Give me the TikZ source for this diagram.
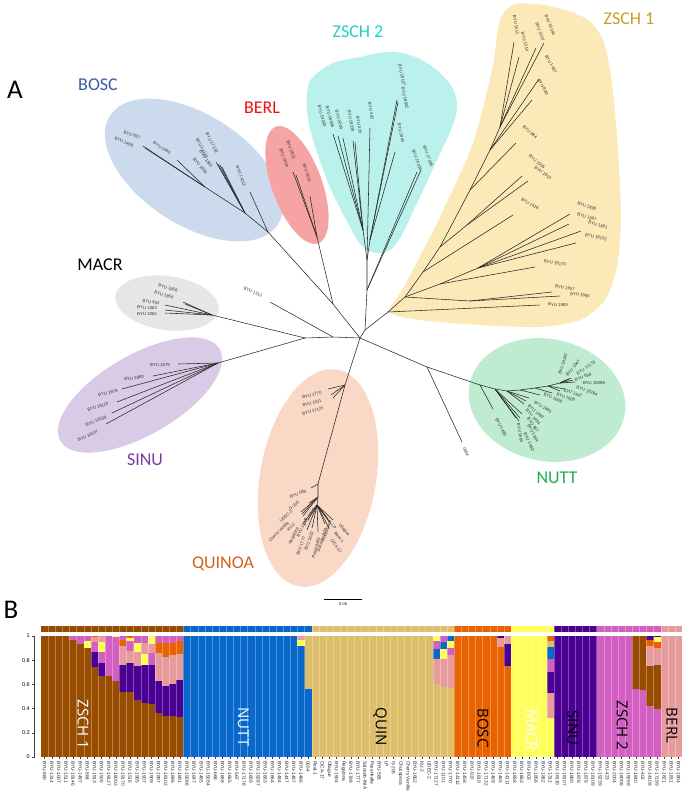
\documentclass[tikz,border=0pt]{standalone}
\usepackage{fontspec}
\setmainfont{Liberation Sans}
\newfontfamily\cali{Carlito}
\newfontfamily\opens{Open Sans}

% clade fills
\definecolor{fBosc}{HTML}{CCDAEE}
\definecolor{fBerl}{HTML}{F5A3A3}
\definecolor{fZtwo}{HTML}{BBF1EC}
\definecolor{fZone}{HTML}{FCE9B8}
\definecolor{fMacr}{HTML}{E6E6E6}
\definecolor{fSinu}{HTML}{D9CAE6}
\definecolor{fQuin}{HTML}{F9D9C6}
\definecolor{fNutt}{HTML}{BFEBD0}
% clade label colours
\definecolor{tBosc}{HTML}{3A5BA0}
\definecolor{tBerl}{HTML}{F01010}
\definecolor{tZtwo}{HTML}{22CFC6}
\definecolor{tZone}{HTML}{C8A024}
\definecolor{tSinu}{HTML}{7A3BA8}
\definecolor{tQuin}{HTML}{D0621E}
\definecolor{tNutt}{HTML}{1FAF55}
% structure colours
\definecolor{cBr}{HTML}{974C00}
\definecolor{cBl}{HTML}{0868CC}
\definecolor{cQu}{HTML}{DFBE6B}
\definecolor{cOr}{HTML}{E86200}
\definecolor{cYe}{HTML}{FFFF5C}
\definecolor{cPu}{HTML}{4A0092}
\definecolor{cPk}{HTML}{D45FC3}
\definecolor{cLp}{HTML}{E89B9C}

\tikzset{
  branch/.style={draw=black!85, line width=0.55pt},
  tiplab/.style={font=\fontsize{4.3}{5}\selectfont, text=black!80, inner sep=0pt},
  cladelab/.style={font=\cali\fontsize{18}{20}\selectfont, inner sep=0pt},
  barlab/.style={font=\fontsize{4.8}{5}\selectfont, text=black!85, rotate=-90, anchor=west, inner sep=0pt},
  grplab/.style={font=\opens\fontsize{15}{16}\selectfont, rotate=-90, inner sep=0pt},
}

% parent, name, tip, label position, angle, text
\newcommand{\leaf}[6]{%
  \coordinate (#2) at (#3);
  \draw[branch] (#1) -- (#2);
  \node[tiplab, rotate=#5] (l#2) at (#4) {#6};}

\begin{document}
\begin{tikzpicture}[x=1pt, y=-1pt]
\useasboundingbox (0,0) rectangle (685,807);

% clade areas
\fill[fBosc, rotate around={-33:(194,170)}] (194,170) ellipse [x radius=100pt, y radius=55pt];
\fill[fBerl, rotate around={-70:(297,185)}] (297,185) ellipse [x radius=62pt, y radius=25pt];
\fill[fMacr, rotate around={-8:(167,303)}] (167,303) ellipse [x radius=52pt, y radius=27pt];
\fill[fSinu, rotate around={30:(140,395)}] (140,395) ellipse [x radius=92pt, y radius=40pt];
\fill[fQuin, rotate around={80:(318,478)}] (318,478) ellipse [x radius=110pt, y radius=58pt];
\fill[fNutt, rotate around={-12:(547,400)}] (547,400) ellipse [x radius=79pt, y radius=61pt];
\fill[fZtwo] plot[smooth cycle, tension=0.6] coordinates {(308,87) (314,76) (333,63) (360,57) (387,52) (410,55) (433,67) (452,87) (457,107) (452,127) (437,160) (417,203) (397,243) (380,253) (363,247) (350,227) (330,187) (313,140) (307,110)};
\fill[fZone] plot[smooth cycle, tension=0.45] coordinates {(390,312) (405,285) (440,217) (473,143) (492,70) (500,20) (515,4) (550,6) (585,18) (603,40) (612,83) (618,150) (621,217) (617,267) (605,300) (580,320) (540,327) (480,325) (420,320)};

% backbone
\coordinate (hub) at (360,338);
\coordinate (bb) at (333,304);
\coordinate (zz) at (365,330);
\coordinate (x1312) at (333,337);
\coordinate (ms) at (305,338);
\coordinate (nu0) at (427,367);
\coordinate (qu1) at (345,385);
\draw[branch] (hub) -- (bb);
\draw[branch] (hub) -- (zz);
\draw[branch] (hub) -- (x1312) -- (ms);
\draw[branch] (hub) -- (nu0);
\draw[branch] (hub) -- (qu1);

% BOSC
\coordinate (bo1) at (268,232);
\coordinate (bo2) at (245,213);
\coordinate (bo3) at (205,187);
\draw[branch] (bb) -- (bo1) -- (bo2) -- (bo3);
\leaf{bo1}{t14111}{250,192}{241,176}{-70}{BYU 14111}
\leaf{bo2}{t17132}{216,162}{212,143}{-62}{BYU 17132}
\leaf{bo2}{t14110}{218,164}{202,148}{-62}{BYU 14110}
\leaf{bo2}{t1819}{220,165}{206,159}{-55}{BYU 1819}
\leaf{bo2}{t1458}{222,167}{200,166}{-50}{BYU 1458}
\leaf{bo3}{t1465}{177,160}{162,148}{-33}{BYU 1465}
\leaf{bo3}{t937}{143,146}{132,135}{-22}{BYU 937}
\leaf{bo3}{t1469}{145,148}{124,142}{-22}{BYU 1469}

% BERL
\coordinate (be1) at (317,237);
\draw[branch] (bb) -- (be1);
\leaf{be1}{t1821}{293,172}{291,150}{-70}{BYU 1821}
\leaf{be1}{t1804}{296,175}{284,158}{-70}{BYU 1804}
\leaf{be1}{t1831}{310,196}{307,173}{-72}{BYU 1831}

% ZSCH 2
\coordinate (z1) at (367,290);
\coordinate (z2) at (367,260);
\coordinate (z3) at (363,230);
\coordinate (z4) at (370,240);
\draw[branch] (zz) -- (z1) -- (z2) -- (z3);
\draw[branch] (z2) -- (z4);
\leaf{z1}{t14108}{417,172}{417,160}{-70}{BYU 14108}
\leaf{z1}{t17199}{421,170}{428,156}{-70}{BYU 17199}
\leaf{z2}{t402}{370,128}{371,111}{-80}{BYU 402}
\leaf{z3}{t19259}{333,134}{322,116}{-75}{BYU 19259}
\leaf{z3}{t18006}{338,136}{330,117}{-75}{BYU 18006}
\leaf{z3}{t2004}{343,138}{339,120}{-75}{BYU 2004}
\leaf{z3}{t19239}{353,141}{351,121}{-80}{BYU 19239}
\leaf{z3}{t423}{355,142}{359,125}{-80}{BYU 423}
\leaf{z4}{t1840}{395,152}{401,133}{-78}{BYU 1840}
\leaf{z4}{t19127}{397,100}{402,75}{-78}{BYU 19127}
\leaf{z4}{t18002}{398,102}{405,98}{-78}{BYU 18002}

% ZSCH 1
\coordinate (zr) at (388,312);
\coordinate (za) at (405,297);
\coordinate (zb) at (423,272);
\coordinate (zc) at (440,247);
\coordinate (zd) at (458,213);
\coordinate (ze) at (470,190);
\coordinate (zf) at (490,150);
\coordinate (zg) at (500,127);
\draw[branch] (zz) -- (zr) -- (za) -- (zb) -- (zc) -- (zd) -- (ze) -- (zf) -- (zg);
\leaf{zr}{t1909}{540,305}{558,305}{-3}{BYU 1909}
\coordinate (zh) at (470,301);
\draw[branch] (za) -- (zh);
\leaf{zh}{t1907}{552,292}{565,288}{-10}{BYU 1907}
\leaf{zh}{t1965}{560,296}{580,295}{-8}{BYU 1965}
\coordinate (zi) at (440,284);
\coordinate (zj) at (478,268);
\draw[branch] (za) -- (zi) -- (zj);
\leaf{zi}{t19170}{535,267}{555,263}{-10}{BYU 19170}
\leaf{zj}{t1896}{570,214}{587,206}{-20}{BYU 1896}
\leaf{zj}{t1897}{569,224}{587,217}{-18}{BYU 1897}
\leaf{zj}{t1891}{581,231}{598,225}{-15}{BYU 1891}
\leaf{zj}{t18102}{576,243}{596,237}{-12}{BYU 18102}
\leaf{zb}{t1516}{513,215}{530,204}{-30}{BYU 1516}
\coordinate (zk) at (467,225);
\draw[branch] (zc) -- (zk);
\leaf{zk}{t1505}{522,176}{537,162}{-40}{BYU 1505}
\leaf{zk}{t1913}{528,181}{543,173}{-35}{BYU 1913}
\leaf{ze}{t884}{516,143}{530,132}{-40}{BYU 884}
\leaf{zf}{t1497}{539,79}{551,64}{-60}{BYU 1497}
\leaf{zf}{t880}{532,100}{543,87}{-60}{BYU 880}
\leaf{zg}{t1511}{514,42}{516,25}{-80}{BYU 1511}
\leaf{zg}{t1314}{519,57}{525,42}{-75}{BYU 1314}
\leaf{zg}{t1007}{536,48}{540,32}{-70}{BYU 1007}
\leaf{zg}{t19146}{544,43}{550,25}{-68}{BYU 19146}

% MACR
\coordinate (ma) at (212,315);
\draw[branch] (ms) -- (ma);
\leaf{ma}{t1858}{183,302}{168,288}{-15}{BYU 1858}
\leaf{ma}{t1856}{185,304}{164,295}{-15}{BYU 1856}
\leaf{ma}{t803}{165,305}{151,302}{-8}{BYU 803}
\leaf{ma}{t1863}{165,310}{147,308}{-4}{BYU 1863}
\leaf{ma}{t1862}{165,313}{147,314}{0}{BYU 1862}
\leaf{x1312}{t1312}{270,302}{253,292}{-22}{BYU 1312}

% SINU
\coordinate (si) at (218,363);
\draw[branch] (ms) -- (si);
\leaf{si}{t1679}{178,364}{160,365}{0}{BYU 1679}
\leaf{si}{t1880}{153,376}{134,378}{8}{BYU 1880}
\leaf{si}{t1878}{122,389}{108,393}{12}{BYU 1878}
\leaf{si}{t18110}{117,402}{98,407}{18}{BYU 18110}
\leaf{si}{t18109}{112,413}{96,421}{22}{BYU 18109}
\leaf{si}{t18107}{106,424}{88,436}{25}{BYU 18107}

% QUINOA
\coordinate (qu2) at (318,484);
\coordinate (qu3) at (318,497);
\coordinate (qu4) at (317,505);
\draw[branch] (qu1) -- (qu2) -- (qu3) -- (qu4);
\leaf{qu1}{t1770}{328,389}{312,395}{15}{BYU 1770}
\leaf{qu1}{t1101}{331,395}{312,403}{15}{BYU 1101}
\leaf{qu1}{t17127}{333,398}{313,411}{15}{BYU 17127}
\leaf{qu2}{t566}{311,488}{298,494}{22}{BYU 566}
\leaf{qu3}{tGtwo}{309,503}{294,506}{40}{G-205}
\leaf{qu3}{tUdec}{301,512}{286,516}{45}{UDEC-2}
\leaf{qu3}{tCherry}{302,514}{279,532}{45}{Cherry Vanilla}
\leaf{qu3}{tKu}{303,516}{291,527}{50}{KU-2}
\leaf{qu4}{tRegal}{304,522}{294,536}{65}{Regalona}
\leaf{qu4}{t1904}{314,509}{309,517}{60}{BYU 1904}
\leaf{qu4}{t1789}{308,520}{302,528}{65}{BYU 1789}
\leaf{qu4}{t1777}{307,530}{301,546}{70}{BYU 1777}
\leaf{qu4}{t1662}{312,528}{309,541}{70}{BYU 1662}
\leaf{qu4}{tPasan}{318,532}{316,548}{75}{Pasankalla}
\leaf{qu4}{tSalc}{325,524}{322,540}{72}{Salcedo-INIA}
\leaf{qu4}{tChuca}{328,519}{327,531}{72}{Chucapaca}
\leaf{qu4}{tLP}{330,522}{334,527}{-50}{LP}
\leaf{qu4}{tOllag}{333,520}{344,530}{-50}{Ollague}
\leaf{qu4}{tReal}{331,524}{339,537}{-50}{Real-1}
\leaf{qu4}{tCica}{329,528}{336,546}{-55}{CICA-17}

% NUTT
\coordinate (nu1) at (480,385);
\coordinate (nu2) at (495,389);
\coordinate (nu3) at (507,391);
\coordinate (nu4) at (520,390);
\coordinate (nu5) at (535,388);
\coordinate (nu6) at (548,386);
\coordinate (nu7) at (560,383);
\draw[branch] (nu0) -- (nu1) -- (nu2) -- (nu3) -- (nu4) -- (nu5) -- (nu6) -- (nu7);
\leaf{nu0}{t0654}{462,442}{466,452}{-65}{0654}
\leaf{nu1}{t1486}{493,409}{501,427}{-62}{BYU 1486}
\leaf{nu2}{t1665}{516,418}{520,433}{-80}{BYU 1665}
\leaf{nu2}{t1663}{519,421}{529,442}{-65}{BYU 1663}
\leaf{nu2}{t1664}{520,418}{533,433}{-62}{BYU 1664}
\leaf{nu2}{t567}{522,414}{533,425}{-55}{BYU 567}
\leaf{nu3}{t1484}{524,404}{533,417}{-48}{BYU 1484}
\leaf{nu3}{t1483}{526,401}{536,412}{-40}{BYU 1483}
\leaf{nu3}{t1485}{529,398}{543,407}{-32}{BYU 1485}
\leaf{nu4}{t1668}{540,395}{553,398}{-22}{BYU 1668}
\leaf{nu5}{t1669}{552,393}{566,397}{-20}{BYU 1669}
\leaf{nu6}{t1447}{560,391}{573,393}{-20}{BYU 1447}
\leaf{nu6}{t19284}{565,389}{587,391}{-20}{BYU 19284}
\leaf{nu7}{t19286}{575,382}{594,383}{0}{BYU 19286}
\leaf{nu7}{t668}{573,380}{583,377}{18}{BYU 668}
\leaf{nu7}{t17176}{571,378}{586,368}{35}{BYU 17176}
\leaf{nu7}{t1647}{569,379}{573,368}{50}{BYU 1647}
\leaf{nu7}{t19287}{566,380}{563,364}{72}{BYU 19287}

% clade names
\node[cladelab, text=tBosc] (nBosc) at (98,85) {BOSC};
\node[cladelab, text=tBerl] (nBerl) at (262,108) {BERL};
\node[cladelab, text=tZtwo] (nZtwo) at (358,32) {ZSCH 2};
\node[cladelab, text=tZone] (nZone) at (629,19) {ZSCH 1};
\node[cladelab, text=black] (nMacr) at (100,265) {MACR};
\node[cladelab, text=tSinu] (nSinu) at (145,460) {SINU};
\node[cladelab, text=tQuin] (nQuin) at (223,564) {QUINOA};
\node[cladelab, text=tNutt] (nNutt) at (557,478) {NUTT};

% scale bar
\coordinate (sb1) at (324,599);
\coordinate (sb2) at (362,599);
\draw[line width=0.6pt] (sb1) -- (sb2) node[midway, below=3pt, tiplab] (sbl) {0.06};

% panel letters
\node[font=\cali\fontsize{27}{30}\selectfont, inner sep=0pt] (pA) at (15,90) {A};
\node[font=\cali\fontsize{27}{30}\selectfont, inner sep=0pt] (pB) at (11,610) {B};

% structure plot
\begin{scope}[shift={(41,757)}, x=7.123pt, y=121pt]
  \foreach \a/\b/\c in {0/20/cBr, 20/38/cBl, 38/58/cQu, 58/66/cOr, 66/72/cYe, 72/78/cPu, 78/87/cPk, 87/90/cLp} {
    \fill[\c] (\a,0) rectangle (\b,1);
    \fill[\c] (\a,1.033) rectangle (\b,1.083);
  }
  % admixed samples
  \foreach \i/\a/\b/\c in {
    4/0.97/1/cPk, 5/0.93/1/cPk,
    6/0.90/0.96/cYe, 6/0.96/1/cPk,
    7/0.74/0.87/cPu, 7/0.87/0.95/cPk, 7/0.95/0.99/cLp, 7/0.99/1/cOr,
    8/0.67/0.78/cPu, 8/0.78/0.87/cPk, 8/0.87/0.95/cYe, 8/0.95/1/cLp,
    9/0.67/1/cPk,
    10/0.63/0.99/cPk, 10/0.99/1/cYe,
    11/0.54/0.76/cPu, 11/0.76/0.92/cLp, 11/0.92/0.97/cOr, 11/0.97/1/cPk,
    12/0.54/0.78/cPu, 12/0.78/0.88/cLp, 12/0.88/0.96/cPk, 12/0.96/0.98/cYe, 12/0.98/1/cOr,
    13/0.47/0.75/cPu, 13/0.75/0.87/cLp, 13/0.87/0.94/cYe, 13/0.94/1/cPk,
    14/0.45/0.76/cPu, 14/0.76/0.85/cYe, 14/0.85/0.94/cLp, 14/0.94/1/cPk,
    15/0.44/0.76/cPu, 15/0.76/0.86/cPk, 15/0.86/0.93/cLp, 15/0.93/1/cYe,
    16/0.36/0.63/cPu, 16/0.63/0.86/cLp, 16/0.86/0.94/cOr, 16/0.94/1/cPk,
    17/0.34/0.59/cPu, 17/0.59/0.83/cLp, 17/0.83/0.94/cOr, 17/0.94/1/cPk,
    18/0.34/0.60/cPu, 18/0.60/0.84/cLp, 18/0.84/0.94/cOr, 18/0.94/1/cPk,
    19/0.33/0.64/cPu, 19/0.64/0.85/cLp, 19/0.85/0.96/cOr, 19/0.96/1/cPk,
    36/0.92/0.97/cYe, 36/0.97/1/cLp,
    37/0.56/1/cQu,
    55/0.60/0.81/cLp, 55/0.81/0.89/cBl, 55/0.89/0.96/cPk, 55/0.96/1/cYe,
    56/0.58/0.81/cLp, 56/0.81/0.89/cYe, 56/0.89/0.95/cBl, 56/0.95/1/cPk,
    57/0.57/0.84/cLp, 57/0.84/0.90/cPk, 57/0.90/0.96/cYe, 57/0.96/1/cBl,
    64/0.91/0.98/cLp, 64/0.98/1/cPu,
    65/0.75/0.93/cPu, 65/0.93/1/cLp,
    71/0.32/0.53/cLp, 71/0.53/0.70/cPu, 71/0.70/0.81/cPk, 71/0.81/0.91/cBl, 71/0.91/0.96/cQu, 71/0.96/1/cOr,
    83/0.56/1/cBr, 84/0.55/1/cBr,
    85/0.42/0.75/cBr, 85/0.75/0.92/cLp, 85/0.92/0.97/cOr, 85/0.97/1/cPu,
    86/0.40/0.76/cBr, 86/0.76/0.90/cLp, 86/0.90/0.95/cOr, 86/0.95/0.99/cYe, 86/0.99/1/cPu}
    \fill[\c] (\i,\a) rectangle (\i+1,\b);
  \foreach \i in {1,...,89}
    \draw[white, opacity=0.3, line width=0.3pt] (\i,0) -- (\i,1.083);
  % y axis
  \draw[black!75, line width=0.5pt] (-0.88,0) -- (-0.88,1);
  \foreach \v [count=\k] in {0,0.2,0.4,0.6,0.8,1} {
    \draw[black!75, line width=0.5pt] (-0.88,\v) -- (-1.25,\v);
    \node[font=\fontsize{5.5}{6}\selectfont, anchor=east, inner sep=0pt] (ax\k) at (-1.55,\v) {\v};
  }
  % sample names
  \foreach \t [count=\k from 0] in {BYU-880, BYU-1314, BYU-1007, BYU-1511, BYU-19146, BYU-1497, BYU-884, BYU-1913, BYU-1505, BYU-19127, BYU-18002, BYU-19170, BYU-1516, BYU-1965, BYU-1907, BYU-1909, BYU-1897, BYU-18102, BYU-1896, BYU-1891,
    BYU-19286, BYU-1647, BYU-1485, BYU-19284, BYU-668, BYU-1668, BYU-1665, BYU-567, BYU-17176, BYU-1669, BYU-19287, BYU-1663, BYU-1664, BYU-1484, BYU-1447, BYU-1487, BYU-1486, 0654,
    Real-1, CICA-17, Ollague, BYU-1904, Regalona, BYU-1789, BYU-1777, Salcedo-INIA, Pasankalla, BYU-566, LP, G-205, Chucapaca, Cherry Vanilla, BYU-1662, KU-2, UDEC-2, BYU-17127, BYU-1101, BYU-1770,
    BYU-14112, BYU-1458, BYU-937, BYU-1819, BYU-17132, BYU-1469, BYU-1465, BYU-14111,
    BYU-1858, BYU-1863, BYU-803, BYU-1856, BYU-1862, BYU-1312,
    BYU-18110, BYU-18107, BYU-1880, BYU-1878, BYU-1879, BYU-18109,
    BYU-19239, BYU-423, BYU-2004, BYU-18006, BYU-19259, BYU-1840, BYU-402, BYU-14108, BYU-17199,
    BYU-1821, BYU-1831, BYU-1804} {
    \draw[black!75, line width=0.3pt] (\k+0.5,0) -- (\k+0.5,-0.02);
    \node[barlab] (bl\k) at (\k+0.5,-0.032) {\t};
  }
  % group names
  \node[grplab, text=white] (gZone) at (5.9,0.27) {ZSCH 1};
  \node[grplab, text=white] (gNutt) at (28.4,0.25) {NUTT};
  \node[grplab, text=black] (gQuin) at (47.6,0.25) {QUIN};
  \node[grplab, text=black] (gBosc) at (62.05,0.24) {BOSC};
  \node[grplab, text=white] (gMacr) at (68.9,0.22) {MACR};
  \node[grplab, text=black] (gSinu) at (74.7,0.24) {SINU};
  \node[grplab, text=black] (gZtwo) at (81.6,0.26) {ZSCH 2};
  \node[grplab, text=black] (gBerl) at (88.6,0.26) {BERL};
\end{scope}
\end{tikzpicture}
\end{document}
